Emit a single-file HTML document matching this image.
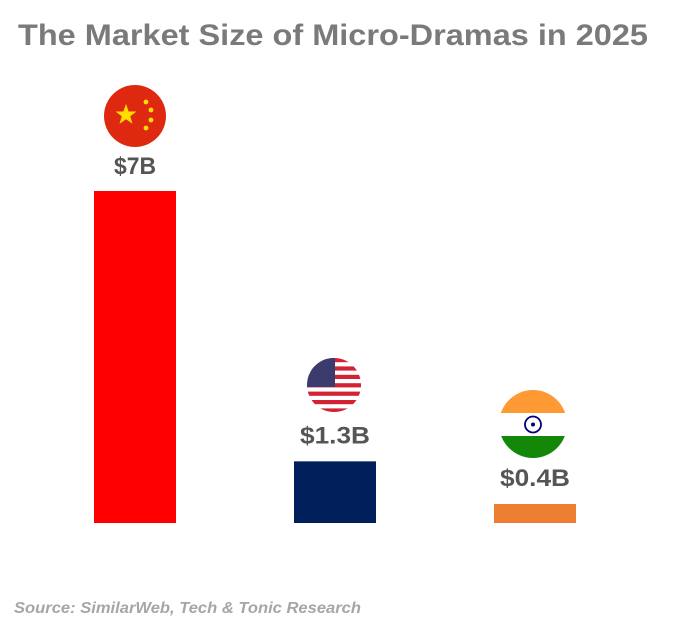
<!DOCTYPE html>
<html><head><meta charset="utf-8"><style>
body{margin:0;background:#fff;width:674px;height:630px;overflow:hidden;font-family:"Liberation Sans",sans-serif}
</style></head><body>
<svg width="674" height="630">
<text x="18" y="45" font-size="30" font-weight="bold" fill="#7a7a7a" textLength="630" lengthAdjust="spacingAndGlyphs">The Market Size of Micro-Dramas in 2025</text>
<g id="bars"></g>
<g id="flag-cn">
<circle cx="135" cy="116" r="31" fill="#de2910"/>
<polygon points="126,104 128.6,111.5 136.5,111.5 130.2,116.2 132.5,123.8 126,119.2 119.5,123.8 121.8,116.2 115.5,111.5 123.4,111.5" fill="#ffde00"/>
<circle cx="146" cy="102" r="2.4" fill="#ffde00"/><circle cx="151" cy="110" r="2.4" fill="#ffde00"/>
<circle cx="151" cy="120" r="2.4" fill="#ffde00"/><circle cx="146" cy="128" r="2.4" fill="#ffde00"/>
</g>
<g>
<clipPath id="cu"><circle cx="334" cy="385" r="27"/></clipPath>
<g clip-path="url(#cu)">
<rect x="300" y="355" width="70" height="60" fill="#fff"/>
<rect x="300" y="358" width="70" height="4.2" fill="#d22234"/><rect x="300" y="366.4" width="70" height="4.2" fill="#d22234"/>
<rect x="300" y="374.8" width="70" height="4.2" fill="#d22234"/><rect x="300" y="383.2" width="70" height="4.2" fill="#d22234"/>
<rect x="300" y="391.6" width="70" height="4.2" fill="#d22234"/><rect x="300" y="400" width="70" height="4.2" fill="#d22234"/>
<rect x="300" y="408.4" width="70" height="4.2" fill="#d22234"/>
<rect x="300" y="355" width="35" height="32" fill="#3c3b6e"/>
</g></g>
<g>
<clipPath id="ci"><circle cx="533" cy="424" r="34"/></clipPath>
<g clip-path="url(#ci)">
<rect x="495" y="388" width="80" height="25" fill="#ff9933"/>
<rect x="495" y="413" width="80" height="23" fill="#fff"/>
<rect x="495" y="436" width="80" height="25" fill="#138808"/>
</g>
<circle cx="533" cy="424.5" r="8" fill="none" stroke="#000080" stroke-width="1.8"/>
<circle cx="533" cy="424.5" r="2" fill="#000080"/>
</g>
<text x="14" y="613" font-size="15.5" font-style="italic" font-weight="bold" fill="#a6a6a6" textLength="347" lengthAdjust="spacingAndGlyphs">Source: SimilarWeb, Tech &amp; Tonic Research</text>
</svg>
<script>
const categories=["China","USA","India"];
const values=[7,1.3,0.4];
const labels=["$7B","$1.3B","$0.4B"];
const colors=["#ff0000","#001f5b","#ed7d31"];
const baseY=523, pxPer=332/7;
function y(v){return baseY-v*pxPer;}
function x(i){return 94+i*200;}
const g=document.getElementById('bars');
const ns="http://www.w3.org/2000/svg";
const labelGap=[17,18,18];
values.forEach((v,i)=>{
 const r=document.createElementNS(ns,'rect');
 r.setAttribute('x',x(i));r.setAttribute('y',y(v));r.setAttribute('width',82);r.setAttribute('height',baseY-y(v));r.setAttribute('fill',colors[i]);
 
 
 g.appendChild(r);
 const t=document.createElementNS(ns,'text');
 t.setAttribute('x',x(i)+41);t.setAttribute('y',y(v)-labelGap[i]);t.setAttribute('text-anchor','middle');
 t.setAttribute('font-size','24');t.setAttribute('font-weight','bold');t.setAttribute('fill','#555');
 t.setAttribute('textLength', String(labels[i].length*14));
 t.setAttribute('lengthAdjust','spacingAndGlyphs');
 t.textContent=labels[i];
 
 
 g.appendChild(t);
});
</script>
</body></html>
